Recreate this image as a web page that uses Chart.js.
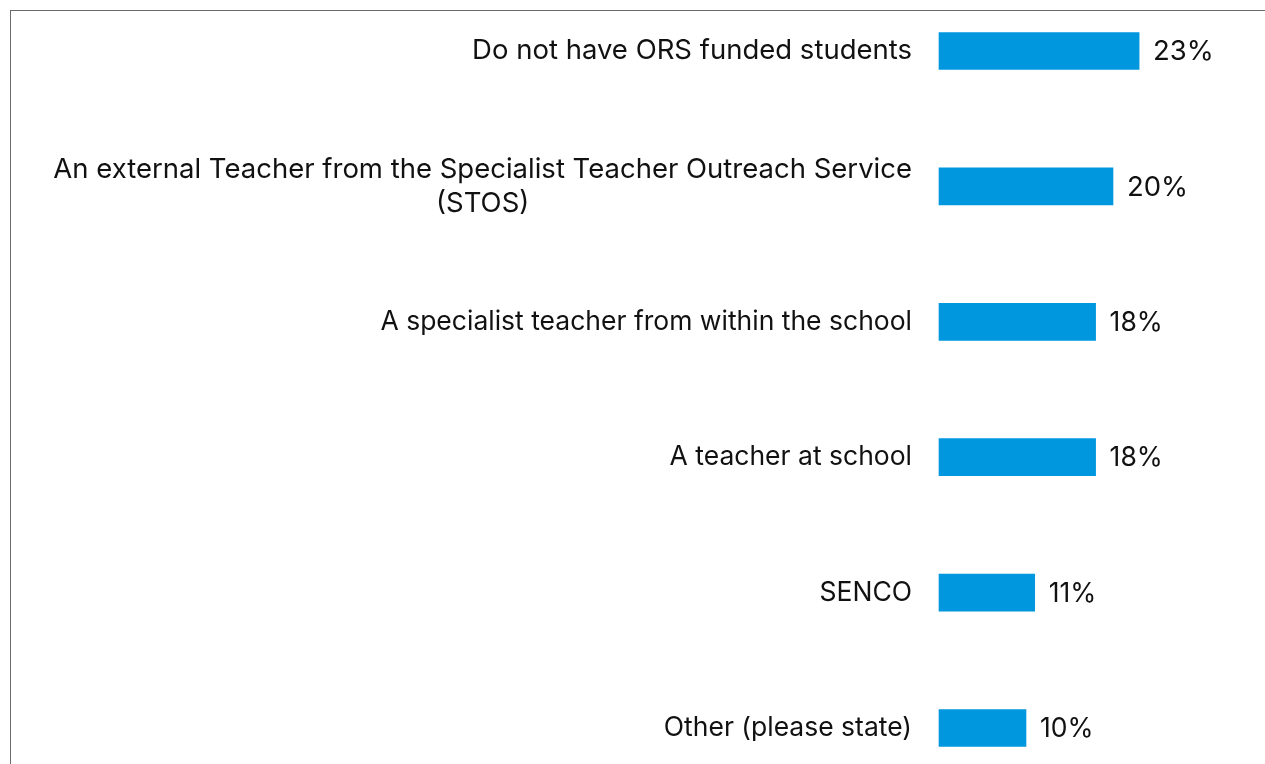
<!DOCTYPE html>
<html>
<head>
<meta charset="utf-8">
<script src="https://cdn.jsdelivr.net/npm/chart.js@4"></script>
<style>
  body { margin: 0; background: #fff; }
  #frame {
    position: absolute; left: 10px; top: 10px; right: 0; bottom: 0;
    border-left: 1px solid #6b6b6b; border-top: 1px solid #6b6b6b;
  }
  #wrap { position: absolute; left: 0; top: 0; width: 1265px; height: 764px; }
</style>
</head>
<body>
<div id="frame"></div>
<div id="wrap"><canvas id="chart"></canvas></div>
<script>
// data
const categories = [
  "Do not have ORS funded students",
  ["An external Teacher from the Specialist Teacher Outreach Service", "(STOS)"],
  "A specialist teacher from within the school",
  "A teacher at school",
  "SENCO",
  "Other (please state)"
];
const shares = [23, 20, 18, 18, 11, 10];
const xMax = 30;

const textColor = "#111";
function fontFor(i) {
  // the first two rows come out a touch bigger in the original
  return (i < 2 ? "27.5px" : "26.5px") + " Inter";
}

// category labels, right aligned, multi-line text centred on its widest line
const categoryLabels = {
  id: "categoryLabels",
  afterDraw(chart) {
    const ctx = chart.ctx;
    const y = chart.scales.y;
    const right = chart.chartArea.left - 27;
    ctx.save();
    ctx.fillStyle = textColor;
    ctx.textBaseline = "middle";
    categories.forEach((lab, i) => {
      const lines = Array.isArray(lab) ? lab : [lab];
      ctx.font = fontFor(i);
      const widest = Math.max(...lines.map(l => ctx.measureText(l).width));
      const cx = right - widest / 2;
      const lh = 34;
      const yc = y.getPixelForTick(i);
      ctx.textAlign = "center";
      lines.forEach((l, k) => {
        ctx.fillText(l, cx, yc + (k - (lines.length - 1) / 2) * lh);
      });
    });
    ctx.restore();
  }
};

// value labels after each bar
const valueLabels = {
  id: "valueLabels",
  afterDatasetsDraw(chart) {
    const ctx = chart.ctx;
    const meta = chart.getDatasetMeta(0);
    ctx.save();
    ctx.fillStyle = textColor;
    ctx.textAlign = "left";
    ctx.textBaseline = "middle";
    meta.data.forEach((bar, i) => {
      ctx.font = fontFor(i);
      ctx.fillText(shares[i] + "%", bar.x + 14, bar.y + 1);
    });
    ctx.restore();
  }
};

const ctx = document.getElementById("chart").getContext("2d");
const chart = new Chart(ctx, {
  type: "bar",
  data: {
    labels: categories,
    datasets: [
      {
        data: shares,
        backgroundColor: "#0097de",
        barThickness: 37,
        clip: false
      }
    ]
  },
  options: {
    indexAxis: "y",
    responsive: true,
    maintainAspectRatio: false,
    animation: false,
    layout: { padding: { left: 931, right: 65, top: 51, bottom: 36 } },
    plugins: {
      legend: { display: false },
      tooltip: { enabled: false }
    },
    scales: {
      x: {
        min: 0,
        max: xMax,
        display: false
      },
      y: {
        offset: false,
        grid: { display: false },
        border: { display: false },
        ticks: { display: false }
      }
    }
  },
  plugins: [categoryLabels, valueLabels]
});
</script>
</body>
</html>
